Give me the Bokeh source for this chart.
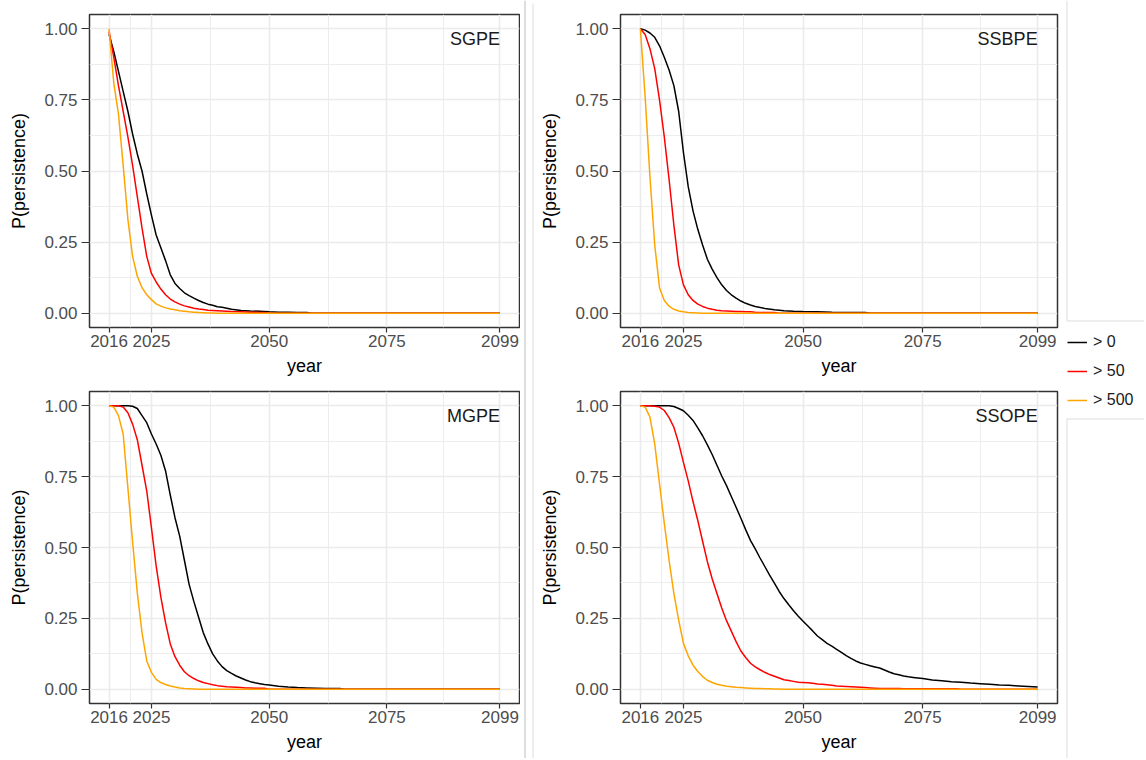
from bokeh.plotting import figure
from bokeh.layouts import row, column
from bokeh.models import Range1d, FixedTicker, NumeralTickFormatter, Label, Legend, LegendItem
from bokeh.embed import file_html
from bokeh.resources import INLINE

# ---------------- data ----------------
panel_names = ["SGPE", "SSBPE", "MGPE", "SSOPE"]
legend_labels = ["> 0", "> 50", "> 500"]
series_colors = ["black", "#FF0000", "#FFA500"]
x_ticks = [2016, 2025, 2050, 2075, 2099]
x_minor_ticks = [2020.5, 2037.5, 2062.5, 2087]
y_ticks = [0, 0.25, 0.5, 0.75, 1.0]
y_minor_ticks = [0.125, 0.375, 0.625, 0.875]
x_label = "year"
y_label = "P(persistence)"

sgpe_years = [2016, 2017, 2018, 2019, 2020, 2021, 2022, 2023, 2024, 2025, 2026, 2027, 2028,
              2029, 2030, 2031, 2032, 2033, 2034, 2035, 2036, 2037, 2038, 2039, 2040,
              2042, 2044, 2046, 2048, 2049, 2050, 2052, 2054, 2056, 2058, 2059, 2099]
sgpe_gt0 = [0.98, 0.92, 0.85, 0.78, 0.71, 0.63, 0.56, 0.50, 0.42, 0.345, 0.275, 0.23, 0.185,
            0.135, 0.105, 0.087, 0.072, 0.062, 0.053, 0.045, 0.038, 0.032, 0.028, 0.023, 0.021,
            0.014, 0.010, 0.008, 0.007, 0.006, 0.005, 0.004, 0.004, 0.003, 0.003, 0.0, 0.0]
sgpe_gt50 = [0.99, 0.90, 0.80, 0.71, 0.62, 0.52, 0.41, 0.30, 0.20, 0.14, 0.11, 0.085, 0.065,
             0.05, 0.04, 0.032, 0.026, 0.022, 0.018, 0.015, 0.013, 0.011, 0.010, 0.009, 0.008,
             0.006, 0.005, 0.004, 0.003, 0.003, 0.0, 0.0, 0.0, 0.0, 0.0, 0.0, 0.0]
sgpe_gt500 = [1.0, 0.81, 0.70, 0.52, 0.33, 0.20, 0.13, 0.09, 0.065, 0.048, 0.033, 0.025, 0.019,
              0.015, 0.012, 0.009, 0.007, 0.005, 0.004, 0.003, 0.002, 0.001, 0.001, 0.0, 0.0,
              0.0, 0.0, 0.0, 0.0, 0.0, 0.0, 0.0, 0.0, 0.0, 0.0, 0.0, 0.0]

ssbpe_years = [2016, 2017, 2018, 2019, 2020, 2021, 2022, 2023, 2024, 2025, 2026, 2027, 2028,
               2029, 2030, 2031, 2032, 2033, 2034, 2035, 2036, 2037, 2038, 2039, 2040,
               2042, 2044, 2045, 2046, 2048, 2050, 2053, 2056, 2060, 2063, 2064, 2099]
ssbpe_gt0 = [1.0, 0.995, 0.985, 0.97, 0.94, 0.90, 0.855, 0.80, 0.71, 0.565, 0.445, 0.36, 0.295,
             0.24, 0.19, 0.155, 0.125, 0.10, 0.08, 0.065, 0.053, 0.043, 0.035, 0.029, 0.024,
             0.017, 0.012, 0.011, 0.009, 0.007, 0.006, 0.005, 0.004, 0.003, 0.003, 0.0, 0.0]
ssbpe_gt50 = [1.0, 0.98, 0.93, 0.86, 0.75, 0.62, 0.47, 0.31, 0.17, 0.10, 0.065, 0.045, 0.032,
              0.024, 0.018, 0.014, 0.011, 0.009, 0.008, 0.007, 0.006, 0.006, 0.005, 0.005, 0.004,
              0.003, 0.003, 0.0, 0.0, 0.0, 0.0, 0.0, 0.0, 0.0, 0.0, 0.0, 0.0]
ssbpe_gt500 = [1.0, 0.76, 0.48, 0.24, 0.09, 0.045, 0.025, 0.014, 0.008, 0.005, 0.003, 0.002, 0.001,
               0.0, 0.0, 0.0, 0.0, 0.0, 0.0, 0.0, 0.0, 0.0, 0.0, 0.0, 0.0,
               0.0, 0.0, 0.0, 0.0, 0.0, 0.0, 0.0, 0.0, 0.0, 0.0, 0.0, 0.0]

mgpe_years = [2016, 2017, 2018, 2019, 2020, 2021, 2022, 2023, 2024, 2025, 2026, 2027, 2028,
              2029, 2030, 2031, 2032, 2033, 2034, 2035, 2036, 2037, 2038, 2039, 2040, 2041,
              2042, 2043, 2044, 2045, 2046, 2047, 2048, 2049, 2050,
              2052, 2054, 2056, 2058, 2060, 2062, 2065, 2066, 2099]
mgpe_gt0 = [1.0, 1.0, 1.0, 1.0, 1.0, 0.998, 0.99, 0.965, 0.94, 0.90, 0.865, 0.825, 0.77,
            0.685, 0.605, 0.54, 0.455, 0.37, 0.31, 0.255, 0.20, 0.16, 0.125, 0.10, 0.08, 0.066,
            0.056, 0.047, 0.04, 0.033, 0.027, 0.023, 0.02, 0.017, 0.015,
            0.011, 0.008, 0.006, 0.005, 0.004, 0.003, 0.003, 0.0, 0.0]
mgpe_gt50 = [1.0, 1.0, 1.0, 0.995, 0.975, 0.935, 0.88, 0.79, 0.70, 0.57, 0.435, 0.325, 0.235,
             0.16, 0.115, 0.085, 0.062, 0.048, 0.038, 0.03, 0.024, 0.02, 0.016, 0.013, 0.011, 0.009,
             0.008, 0.007, 0.006, 0.005, 0.005, 0.004, 0.004, 0.004, 0.0,
             0.0, 0.0, 0.0, 0.0, 0.0, 0.0, 0.0, 0.0, 0.0]
mgpe_gt500 = [1.0, 0.995, 0.965, 0.90, 0.71, 0.52, 0.34, 0.20, 0.10, 0.06, 0.035, 0.024, 0.017,
              0.012, 0.008, 0.005, 0.003, 0.002, 0.001, 0.0, 0.0, 0.0, 0.0, 0.0, 0.0, 0.0,
              0.0, 0.0, 0.0, 0.0, 0.0, 0.0, 0.0, 0.0, 0.0,
              0.0, 0.0, 0.0, 0.0, 0.0, 0.0, 0.0, 0.0, 0.0]

ssope_years = [2016, 2017, 2018, 2019, 2020, 2021, 2022, 2023, 2024, 2025, 2026, 2027, 2028,
               2029, 2030, 2031, 2032, 2033, 2034, 2035, 2036, 2037, 2038, 2039, 2040, 2041,
               2042, 2043, 2044, 2045, 2046, 2047, 2048, 2049, 2050, 2051, 2052, 2053, 2054,
               2055, 2056, 2057, 2058, 2059, 2060, 2061, 2062, 2063, 2064, 2065, 2066, 2067,
               2068, 2069, 2070, 2071, 2072, 2073, 2074, 2075,
               2077, 2079, 2081, 2082, 2083, 2085, 2087, 2089, 2091, 2093, 2095, 2097, 2099]
ssope_gt0 = [1.0, 1.0, 1.0, 1.0, 1.0, 1.0, 1.0, 0.997, 0.99, 0.982, 0.966, 0.948, 0.922,
             0.894, 0.862, 0.828, 0.79, 0.752, 0.718, 0.68, 0.642, 0.603, 0.563, 0.525, 0.495, 0.463,
             0.433, 0.403, 0.374, 0.345, 0.32, 0.298, 0.277, 0.258, 0.24, 0.223, 0.206, 0.188, 0.175,
             0.162, 0.152, 0.141, 0.13, 0.119, 0.109, 0.10, 0.093, 0.088, 0.083, 0.079, 0.075, 0.068,
             0.061, 0.055, 0.051, 0.047, 0.044, 0.042, 0.040, 0.038,
             0.033, 0.030, 0.027, 0.026, 0.025, 0.022, 0.020, 0.018, 0.015, 0.014, 0.012, 0.010, 0.008]
ssope_gt50 = [1.0, 1.0, 1.0, 0.998, 0.995, 0.983, 0.958, 0.924, 0.868, 0.80, 0.735, 0.662, 0.595,
              0.522, 0.45, 0.39, 0.338, 0.287, 0.242, 0.205, 0.168, 0.135, 0.112, 0.092, 0.079, 0.069,
              0.06, 0.052, 0.046, 0.04, 0.034, 0.031, 0.028, 0.025, 0.024, 0.023, 0.021, 0.019, 0.018,
              0.016, 0.014, 0.012, 0.011, 0.010, 0.009, 0.008, 0.007, 0.006, 0.005, 0.004, 0.003, 0.003,
              0.003, 0.003, 0.003, 0.002, 0.002, 0.002, 0.002, 0.002,
              0.002, 0.002, 0.002, 0.002, 0.0, 0.0, 0.0, 0.0, 0.0, 0.0, 0.0, 0.0, 0.0]
ssope_gt500 = [1.0, 0.995, 0.96, 0.865, 0.725, 0.585, 0.455, 0.338, 0.244, 0.162, 0.118, 0.085, 0.063,
               0.045, 0.032, 0.024, 0.018, 0.014, 0.011, 0.009, 0.007, 0.006, 0.005, 0.004, 0.003, 0.003,
               0.002, 0.002, 0.001, 0.001, 0.0, 0.0, 0.0, 0.0, 0.0, 0.0, 0.0, 0.0, 0.0,
               0.0, 0.0, 0.0, 0.0, 0.0, 0.0, 0.0, 0.0, 0.0, 0.0, 0.0, 0.0, 0.0,
               0.0, 0.0, 0.0, 0.0, 0.0, 0.0, 0.0, 0.0,
               0.0, 0.0, 0.0, 0.0, 0.0, 0.0, 0.0, 0.0, 0.0, 0.0, 0.0, 0.0, 0.0]

# ---------------- styling ----------------
FONT = "Liberation Sans"
FRAME = "#333333"
GRID = "#EBEBEB"
TOTAL_H = 758


def make_panel(name, years, series, w, h, mbl, mbr, mbt, mbb):
    p = figure(width=w, height=h, title=None, output_backend="svg", toolbar_location=None, tools="",
               x_range=Range1d(2011.85, 2103.15), y_range=Range1d(-0.05, 1.05),
               min_border_left=mbl, min_border_right=mbr, min_border_top=mbt, min_border_bottom=mbb,
               background_fill_color="white", border_fill_color="white")
    p.outline_line_color = FRAME
    p.outline_line_width = 1.5

    p.xaxis.ticker = FixedTicker(ticks=x_ticks, minor_ticks=x_minor_ticks)
    p.yaxis.ticker = FixedTicker(ticks=y_ticks, minor_ticks=y_minor_ticks)
    p.xaxis.formatter = NumeralTickFormatter(format="0")
    p.yaxis.formatter = NumeralTickFormatter(format="0.00")
    p.xaxis.axis_label = x_label
    p.yaxis.axis_label = y_label

    for ax in (p.xaxis[0], p.yaxis[0]):
        ax.axis_line_color = None
        ax.major_tick_line_color = FRAME
        ax.major_tick_line_width = 1.2
        ax.major_tick_in = 0
        ax.minor_tick_line_color = None
        ax.major_label_text_font = FONT
        ax.major_label_text_font_size = "17px"
        ax.major_label_text_color = "#4D4D4D"
        ax.axis_label_text_font = FONT
        ax.axis_label_text_font_size = "18px"
        ax.axis_label_text_font_style = "normal"
        ax.axis_label_text_color = "black"
    p.xaxis.major_tick_out = 5
    p.xaxis.major_label_standoff = 2
    p.xaxis.axis_label_standoff = 6
    p.yaxis.major_tick_out = 8
    p.yaxis.major_label_standoff = 4
    p.yaxis.axis_label_standoff = 12

    for g in (p.xgrid[0], p.ygrid[0]):
        g.grid_line_color = GRID
        g.grid_line_width = 1.6
        g.minor_grid_line_color = GRID
        g.minor_grid_line_width = 0.9

    for vals, col in zip(series, series_colors):
        p.line(years, vals, line_color=col, line_width=1.5)

    p.add_layout(Label(x=2099, y=0.965, text=name, text_align="right", text_baseline="middle",
                       text_font=FONT, text_font_size="18px", text_color="#1A1A1A"))
    return p


tl = make_panel(panel_names[0], sgpe_years, [sgpe_gt0, sgpe_gt50, sgpe_gt500], 520, 381, 89, 1, 14, 54)
tr = make_panel(panel_names[1], ssbpe_years, [ssbpe_gt0, ssbpe_gt50, ssbpe_gt500], 523, 381, 84, 2, 14, 54)
bl = make_panel(panel_names[2], mgpe_years, [mgpe_gt0, mgpe_gt50, mgpe_gt500], 520, 377, 89, 1, 10, 55)
br = make_panel(panel_names[3], ssope_years, [ssope_gt0, ssope_gt50, ssope_gt500], 523, 377, 84, 2, 10, 55)

# separator strip between the two columns (image seams)
sep = figure(width=16, height=TOTAL_H, title=None, output_backend="svg", toolbar_location=None, tools="",
             x_range=Range1d(0, 16), y_range=Range1d(TOTAL_H, 0), min_border=0,
             x_axis_location=None, y_axis_location=None, border_fill_color="white")
sep.grid.visible = False
sep.outline_line_color = None
sep.segment(x0=[4.5, 12.5], y0=[0, 3], x1=[4.5, 12.5], y1=[TOTAL_H, TOTAL_H],
            line_color=["#BDBDBD", "#DDDDDD"], line_width=1)

# legend strip on the right
LW = 85
lf = figure(width=LW, height=TOTAL_H, title=None, output_backend="svg", toolbar_location=None, tools="",
            x_range=Range1d(0, LW), y_range=Range1d(TOTAL_H, 0), min_border=0,
            x_axis_location=None, y_axis_location=None, border_fill_color="white")
lf.grid.visible = False
lf.outline_line_color = None
lf.segment(x0=[7.5, 7.5, 7.5, 7.5], y0=[0, 418, 320.5, 418.5], x1=[7.5, 7.5, LW, LW],
           y1=[320.5, TOTAL_H, 320.5, 418.5], line_color="#DDDDDD", line_width=1)
# key renderers drawn off-canvas; they only feed the legend
key_renderers = [lf.line(x=[-20, -10], y=[-20, -20], line_color=c, line_width=1.5) for c in series_colors]
legend = Legend(items=[LegendItem(label=lab, renderers=[r]) for lab, r in zip(legend_labels, key_renderers)],
                location=(8, TOTAL_H - 410), orientation="vertical", glyph_width=20, glyph_height=20,
                label_standoff=6, spacing=9, padding=0, margin=0, border_line_color=None,
                background_fill_alpha=0, label_text_font=FONT, label_text_font_size="16px",
                label_text_color="#1A1A1A", label_height=20)
lf.add_layout(legend)

layout = row(column(tl, bl), sep, column(tr, br), lf)

open("out.html", "w").write(file_html(layout, INLINE))
